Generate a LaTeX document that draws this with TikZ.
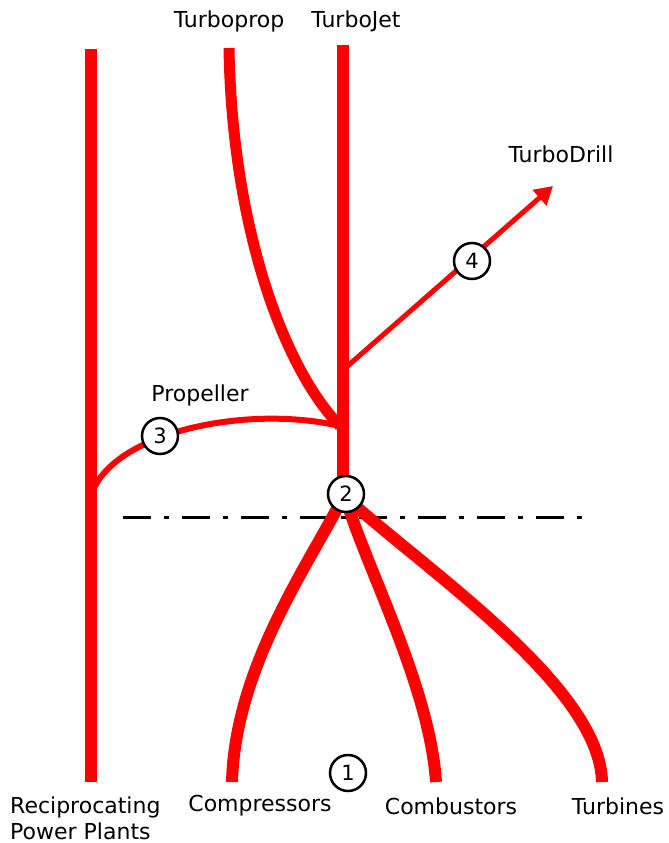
\documentclass[tikz,border=0pt]{standalone}
\usepackage{fontspec}
\setmainfont{DejaVu Sans}
\usetikzlibrary{arrows.meta}
\begin{document}
\begin{tikzpicture}[x=1pt,y=-1pt,
  branch/.style={draw=red,line width=12pt},
  thinbranch/.style={draw=red,line width=6pt},
  stage/.style={circle,draw=black,fill=white,line width=2.5pt,minimum size=36pt,inner sep=0pt,font=\fontsize{21}{25}\selectfont},
  lbl/.style={font=\fontsize{22}{26}\selectfont,inner sep=0pt},
  axisline/.style={draw=black,line width=3pt,dash pattern=on 28pt off 13pt on 5pt off 13pt}]
\useasboundingbox (0,0) rectangle (669,843);

% end points of the branches
\coordinate (rpTop) at (91,49);
\coordinate (rpBot) at (91,782);
\coordinate (rpJoin) at (93,490);
\coordinate (tjTop) at (343,45);
\coordinate (tjBot) at (343,497);
\coordinate (tpTop) at (229,48);
\coordinate (hub) at (340,426);
\coordinate (tdStart) at (343,370);
\coordinate (tdTip) at (553,186);
\coordinate (cpBot) at (232,782);
\coordinate (cbBot) at (436,782);
\coordinate (tbBot) at (602,782);
\coordinate (cpTop) at (340,503);
\coordinate (cbTop) at (347,503);
\coordinate (tbTop) at (352,503);
\coordinate (axL) at (123,517);
\coordinate (axR) at (584,517);

% centre line
\draw[axisline] (axL) -- (axR);

% reciprocating power plants and turbojet trunks
\draw[branch,line width=12pt] (rpTop) -- (rpBot);
\draw[branch] (tjTop) -- (tjBot);

% turboprop
\draw[branch,line width=11pt] (tpTop) .. controls (232,230) and (285,370) .. (hub);

% propeller
\draw[thinbranch] (rpJoin) .. controls (120,430) and (250,405) .. (hub);

% turbodrill
\draw[draw=red,line width=5pt,-{Triangle[length=18pt,width=20pt]}] (tdStart) -- (tdTip);

% components below the centre line
\draw[branch] (cpTop) .. controls (305,570) and (235,670) .. (cpBot);
\draw[branch] (cbTop) .. controls (370,575) and (430,690) .. (cbBot);
\draw[branch] (tbTop) .. controls (440,580) and (600,690) .. (tbBot);

% stage markers
\node[stage] (s1) at (348,773) {1};
\node[stage] (s2) at (346,494) {2};
\node[stage] (s3) at (160,436) {3};
\node[stage] (s4) at (472,261) {4};

% labels
\node[lbl] (lTurboprop) at (229,21) {Turboprop};
\node[lbl] (lTurbojet) at (356,21) {TurboJet};
\node[lbl] (lTurbodrill) at (561,154) {TurboDrill};
\node[lbl] (lPropeller) at (200,395) {Propeller};
\node[lbl,align=left,anchor=west] (lRecip) at (10,818) {Reciprocating\\Power Plants};
\node[lbl] (lComp) at (260,806) {Compressors};
\node[lbl] (lComb) at (451,806) {Combustors};
\node[lbl] (lTurb) at (618,806) {Turbines};
\end{tikzpicture}
\end{document}
